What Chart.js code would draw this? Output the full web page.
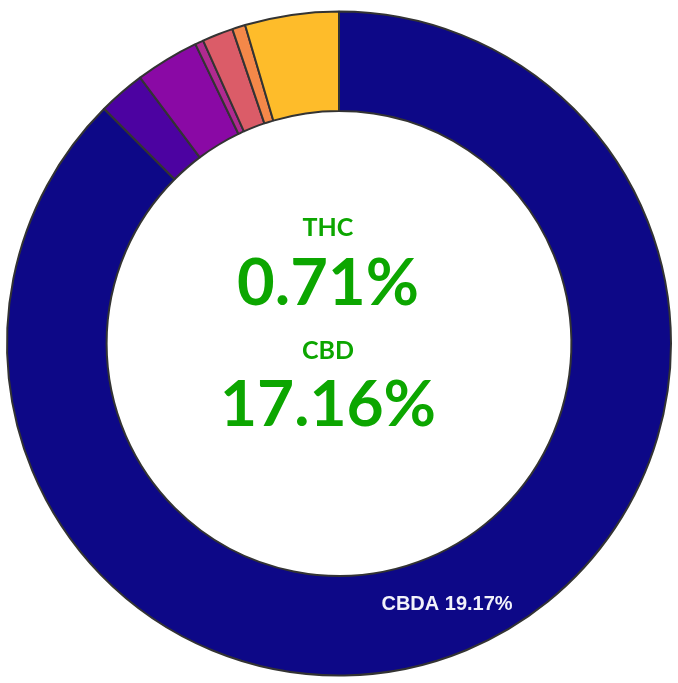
<!DOCTYPE html>
<html>
<head>
<meta charset="utf-8">
<script src="https://cdn.jsdelivr.net/npm/chart.js@4/dist/chart.umd.min.js"></script>
<style>
    html, body { margin: 0; padding: 0; background: #ffffff; }
    #wrap { width: 678px; height: 683px; }
</style>
</head>
<body>
<div id="wrap"><canvas id="cannabinoidChart" width="678" height="683"></canvas></div>
<script>
// Datos del perfil de cannabinoides
const labels = ['CBDA', 'CBGA', 'THCA', 'THC', 'CBD', 'CBG', 'CBDVA'];
const values = [19.17, 0.50, 0.68, 0.09, 0.33, 0.14, 1.00];
const colors = ['#0d0887', '#4c02a1', '#8a09a5', '#b02a90', '#db5c68', '#f48849', '#febc2a'];

const centerTitles = ['THC', 'CBD'];
const centerValues = ['0.71%', '17.16%'];

// Etiqueta dentro del segmento grande
const sliceLabelPlugin = {
    id: 'sliceLabels',
    afterDatasetsDraw(chart) {
        const ctx = chart.ctx;
        const meta = chart.getDatasetMeta(0);
        const total = values.reduce((a, b) => a + b, 0);
        meta.data.forEach(function(arc, i) {
            if (values[i] / total < 0.2) return;
            const mid = (arc.startAngle + arc.endAngle) / 2;
            const r = (arc.innerRadius + arc.outerRadius) / 2;
            const x = arc.x + Math.cos(mid) * r;
            const y = arc.y + Math.sin(mid) * r;
            ctx.save();
            ctx.font = 'bold 20px "Liberation Sans", Arial, sans-serif';
            ctx.fillStyle = '#f2f2fa';
            ctx.textAlign = 'center';
            ctx.textBaseline = 'middle';
            ctx.fillText(labels[i] + ' ' + values[i].toFixed(2) + '%', x, y);
            ctx.restore();
        });
    }
};

// Texto central
const centerTextPlugin = {
    id: 'centerText',
    afterDraw(chart) {
        const ctx = chart.ctx;
        const cx = 328;
        ctx.save();
        ctx.fillStyle = '#0ca600';
        ctx.textAlign = 'center';
        ctx.textBaseline = 'middle';
        ctx.font = 'bold 25px Lato, sans-serif';
        ctx.fillText(centerTitles[0], cx, 228);
        ctx.font = 'bold 65px Lato, sans-serif';
        ctx.fillText(centerValues[0], cx, 284);
        ctx.font = 'bold 25px Lato, sans-serif';
        ctx.fillText(centerTitles[1], cx, 351);
        ctx.font = 'bold 64px Lato, sans-serif';
        ctx.fillText(centerValues[1], cx, 405);
        ctx.restore();
    }
};

const cannabinoidChart = new Chart(document.getElementById('cannabinoidChart'), {
    type: 'doughnut',
    data: {
        labels: labels,
        datasets: [{
            data: values,
            backgroundColor: colors,
            borderColor: '#333333',
            borderWidth: 2
        }]
    },
    options: {
        responsive: false,
        animation: false,
        cutout: '70%',
        layout: {
            padding: { left: 6, right: 6, top: 10, bottom: 6 }
        },
        plugins: {
            legend: { display: false },
            tooltip: { enabled: false }
        }
    },
    plugins: [sliceLabelPlugin, centerTextPlugin]
});
</script>
</body>
</html>
